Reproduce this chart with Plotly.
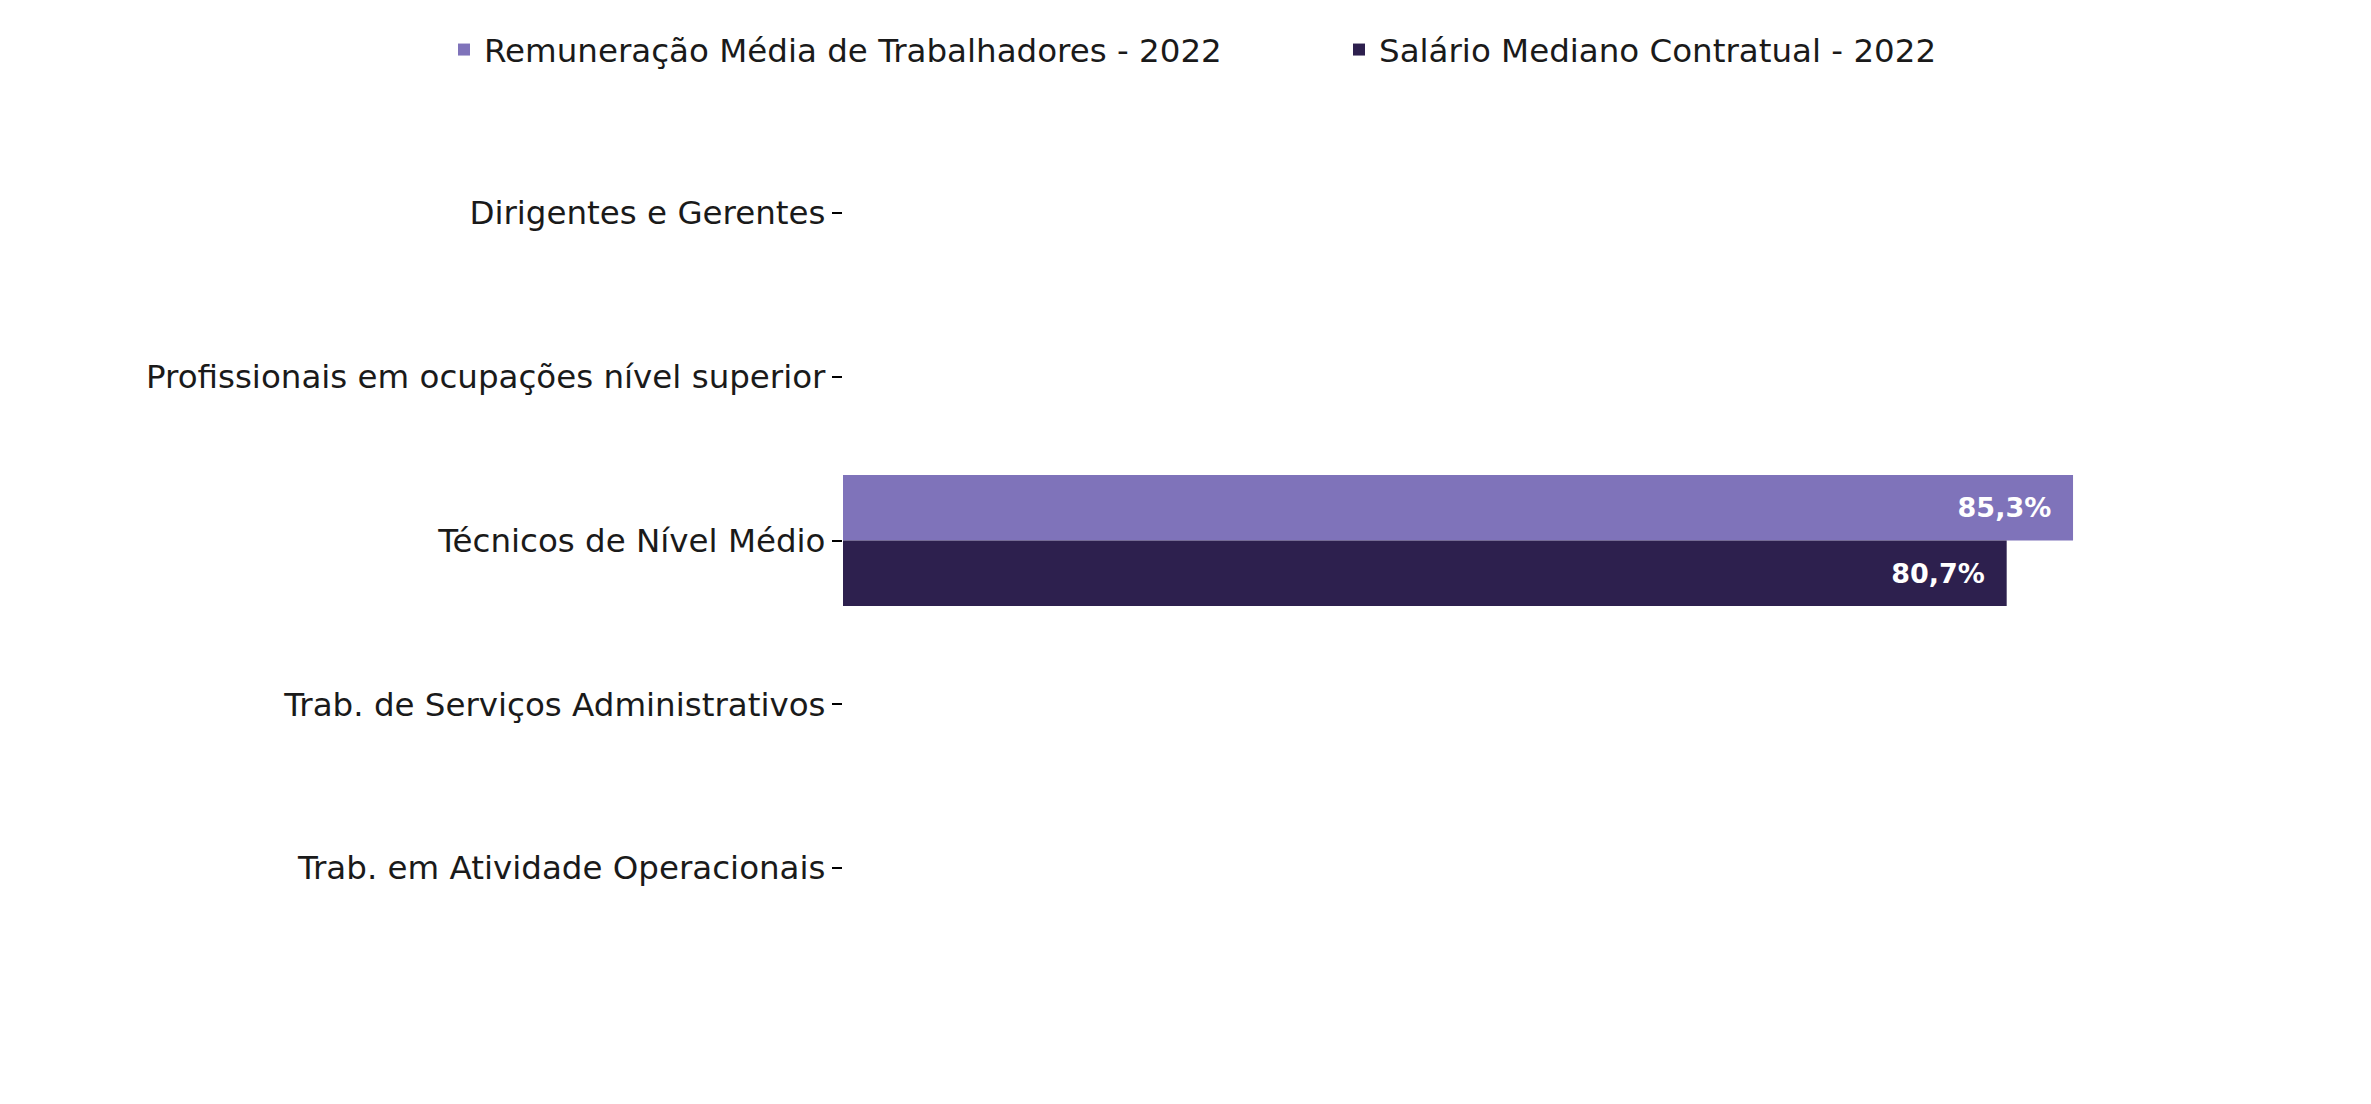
import plotly.graph_objects as go

categories = [
    "Dirigentes e Gerentes",
    "Profissionais em ocupações nível superior",
    "Técnicos de Nível Médio",
    "Trab. de Serviços Administrativos",
    "Trab. em Atividade Operacionais",
]
series_names = [
    "Remuneração Média de Trabalhadores - 2022",
    "Salário Mediano Contratual - 2022",
]
remuneracao_media = [None, None, 85.3, None, None]
salario_mediano = [None, None, 80.7, None, None]
colors = ["#7F73BA", "#2D204E"]

def labels(vals):
    return [("" if v is None else f"{v:.1f}".replace(".", ",") + "%\u00a0\u00a0") for v in vals]

fig = go.Figure()
for name, vals, col in zip(series_names, [remuneracao_media, salario_mediano], colors):
    fig.add_trace(go.Bar(
        y=categories, x=vals, name=name, orientation="h",
        marker=dict(color=col, line=dict(width=0)),
        text=labels(vals), textposition="inside", insidetextanchor="end",
        textfont=dict(family="DejaVu Sans", size=27, color="white", weight="bold"),
        textangle=0, cliponaxis=False,
    ))

fig.update_layout(
    width=2371, height=1104,
    paper_bgcolor="white", plot_bgcolor="white",
    barmode="group", bargap=0.2, bargroupgap=0,
    margin=dict(l=835, r=94, t=123, b=162, autoexpand=False),
    font=dict(family="DejaVu Sans", size=32.5, color="#1a1a1a"),
    showlegend=True,
    legend=dict(
        orientation="h", xref="paper", yref="paper",
        x=-0.2767, xanchor="left", y=1.099, yanchor="middle",
        entrywidth=850, entrywidthmode="pixels",
        font=dict(family="DejaVu Sans", size=32.5, color="#1a1a1a"),
        bgcolor="rgba(0,0,0,0)", traceorder="normal",
    ),
    xaxis=dict(range=[0, 100], visible=False, showgrid=False, zeroline=False),
    yaxis=dict(
        autorange="reversed", showgrid=False, zeroline=False, showline=False,
        ticks="outside", ticklen=10, tickwidth=2, tickcolor="black",
        tickfont=dict(family="DejaVu Sans", size=32.5, color="#1a1a1a"),
        ticklabelstandoff=0,
    ),
)

fig.write_html("out.html")
